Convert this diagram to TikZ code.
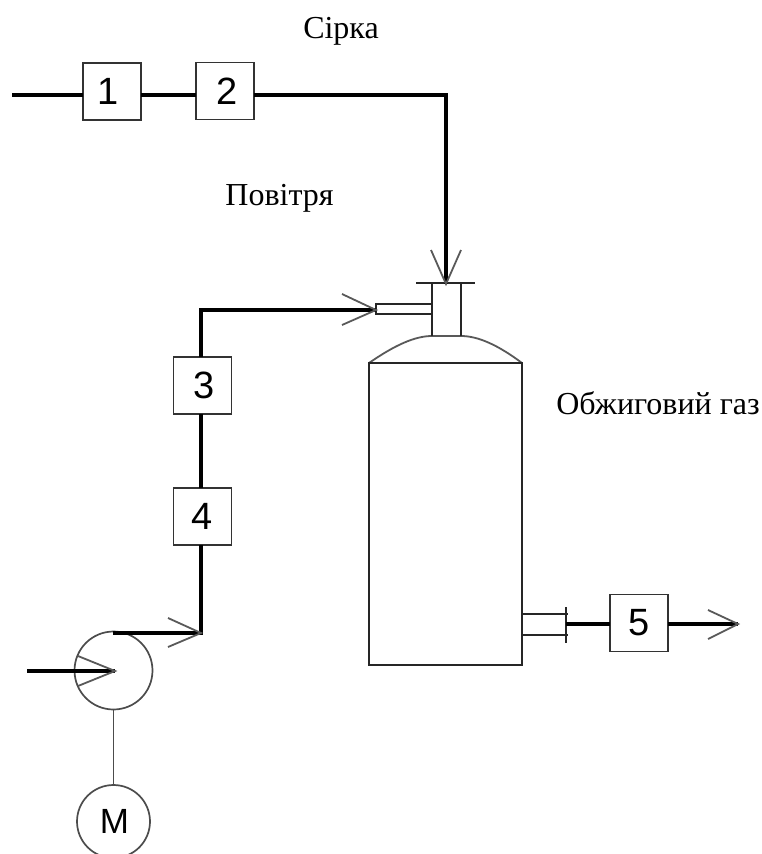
\documentclass[tikz,border=0pt]{standalone}
\usepackage{fontspec}
\setmainfont{Liberation Serif}
\newfontfamily\labelsans{Liberation Sans}
\begin{document}
\begin{tikzpicture}[x=1pt,y=-1pt,
  unitbox/.style={draw=black!80,line width=1.8pt,fill=white,minimum width=58pt,minimum height=57pt,inner sep=0pt,outer sep=0pt,font=\labelsans\fontsize{38}{38}\selectfont},
  round/.style={draw=black!70,line width=1.7pt,circle,fill=white,inner sep=0pt,outer sep=0pt},
  flow/.style={line width=3.3pt,black,line join=miter},
  wing/.style={line width=1.8pt,black!65},
  vessel/.style={line width=1.8pt,black!85},
  caption/.style={font=\fontsize{32}{32}\selectfont,inner sep=0pt,anchor=base}]
\useasboundingbox (0,0) rectangle (762,854);
\clip (0,0) rectangle (762,854);
% vessel
\draw[vessel,black!65] (369,363) .. controls (395,345) and (415,336) .. (432,336) -- (461,336) .. controls (478,336) and (498,345) .. (522,363);
\draw[vessel] (369,363) rectangle (522,665);
\draw[vessel] (432,283) -- (432,336) (461,283) -- (461,336);
\draw[vessel] (416,283) -- (475,283);
\draw[vessel] (432,304) -- (376,304) -- (376,314) -- (432,314);
\draw[vessel] (522,614) -- (568,614) (522,635) -- (568,635);
\draw[vessel] (566,607) -- (566,643);
% units
\node[unitbox] (u1) at (112,91.5) {\hspace{-8pt}1};
\node[unitbox] (u2) at (225,91) {\hspace{5pt}2};
\node[unitbox] (u3) at (202.5,385.5) {\hspace{3pt}3};
\node[unitbox] (u4) at (202.5,516.5) {4};
\node[unitbox] (u5) at (639,623) {5};
\node[round,minimum size=78pt] (pump) at (113.5,670.5) {};
\node[round,minimum size=73pt,font=\labelsans\fontsize{35}{35}\selectfont] (motor) at (113.5,821.5) {\hspace{2pt}M};
% free ends
\coordinate (s0) at (12,95);
\coordinate (sc) at (446,95);
\coordinate (se) at (446,284);
\coordinate (a1) at (201,633);
\coordinate (a2) at (201,310);
\coordinate (ae) at (376,310);
\coordinate (p0) at (27,671);
\coordinate (pe) at (115,671);
\coordinate (ptop) at (113,633);
\coordinate (g0) at (566,624);
\coordinate (ge) at (738,624);
% flows
\draw[flow] (s0) -- (s0 -| u1.west);
\draw[flow] (u1.east |- s0) -- (u2.west |- s0);
\draw[flow] (u2.east |- s0) -- (sc) -- (se);
\draw[flow] (ptop) -- (a1) -- (a1 |- u4.south);
\draw[flow] (a1 |- u4.north) -- (a1 |- u3.south);
\draw[flow] (a1 |- u3.north) -- (a2) -- (ae);
\draw[flow] (p0) -- (pe);
\draw[flow] (g0) -- (u5.west |- g0);
\draw[flow] (u5.east |- g0) -- (ge);
\draw[line width=1.8pt,black!70] (pump.south) -- (motor.north);
% arrow wings
\draw[wing] (431,250) -- (se) -- (461,250);
\draw[wing] (342,294) -- (ae) -- (342,325);
\draw[wing] (168,618) -- (a1) -- (168,647);
\draw[wing] (78,656) -- (pe) -- (78,686);
\draw[wing] (708,610) -- (ge) -- (708,639);
% captions
\node[caption] (t1) at (341,38.5) {Сірка};
\node[caption] (t2) at (279.5,205.5) {Повітря};
\node[caption] (t3) at (658,414) {Обжиговий газ};
\end{tikzpicture}
\end{document}
